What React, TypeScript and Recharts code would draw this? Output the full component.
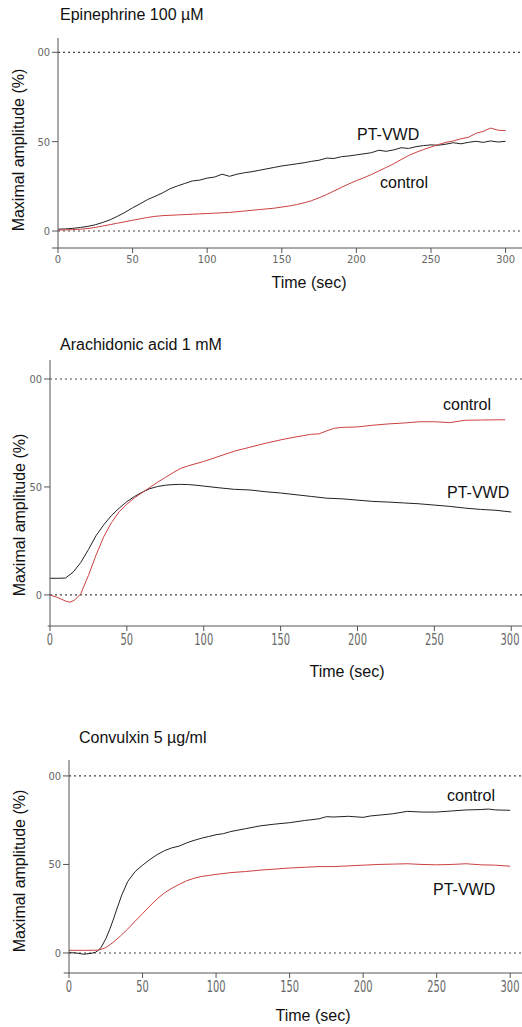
import React from 'react';
import { LineChart, Line, XAxis, YAxis, ReferenceLine } from 'recharts';

// ---- data ----
const xTicks = [0, 50, 100, 150, 200, 250, 300];
const yTicks = [0, 50, 100];
const yTickLabels = ['0', '50', '00'];

// Epinephrine 100 µM (5 s steps)
const epiTime = [
  0, 5, 10, 15, 20, 25, 30, 35, 40, 45, 50, 55, 60, 65, 70, 75, 80, 85, 90, 95, 100,
  105, 110, 115, 120, 125, 130, 135, 140, 145, 150, 155, 160, 165, 170, 175, 180, 185, 190, 195, 200,
  205, 210, 215, 220, 225, 230, 235, 240, 245, 250, 255, 260, 265, 270, 275, 280, 285, 290, 295, 300,
];
const epiPtVwd = [
  1.0, 1.2, 1.5, 2.0, 2.6, 3.5, 4.8, 6.3, 8.3, 10.5, 13.0, 15.2, 17.6, 19.4, 21.3, 23.6, 25.2, 26.6, 28.0, 28.5, 29.6,
  30.2, 31.8, 30.6, 31.8, 32.6, 33.2, 34.0, 34.8, 35.6, 36.4, 37.0, 37.6, 38.2, 39.0, 39.6, 40.8, 40.6, 41.6, 42.0, 42.6,
  43.2, 43.8, 45.2, 44.6, 45.4, 46.6, 46.2, 47.2, 47.8, 48.2, 48.0, 48.6, 49.4, 48.8, 49.6, 50.2, 49.6, 50.4, 49.8, 50.2,
];
const epiControl = [
  0.6, 0.6, 0.8, 1.0, 1.4, 2.0, 2.8, 3.6, 4.4, 5.2, 6.0, 6.8, 7.6, 8.2, 8.6, 8.8, 9.0, 9.2, 9.4, 9.6, 9.8,
  10.0, 10.2, 10.4, 10.8, 11.2, 11.6, 12.0, 12.4, 12.8, 13.4, 14.0, 14.8, 15.8, 17.0, 18.6, 20.4, 22.4, 24.4, 26.4, 28.2,
  29.8, 31.6, 33.6, 35.6, 37.6, 40.0, 42.2, 44.0, 45.6, 47.0, 48.4, 49.6, 50.4, 51.6, 52.4, 54.6, 55.8, 57.6, 56.4, 56.2,
];

// Arachidonic acid 1 mM
const aaPtVwdTime = [
  0, 5, 10, 15, 20, 25, 30, 35, 40, 45, 50, 55, 60, 65, 70, 75, 80, 85, 90, 95, 100,
  110, 120, 130, 140, 150, 160, 170, 180, 190, 200, 210, 220, 230, 240, 250, 260, 270, 280, 290, 300,
];
const aaPtVwd = [
  7.7, 7.7, 7.8, 10.5, 15, 21, 27.5, 32.5, 36.8, 40.2, 43.2, 45.6, 47.6, 49.2, 50.2, 50.8, 51.1, 51.2, 51.1, 50.8, 50.4,
  49.6, 48.9, 48.6, 47.8, 47.2, 46.4, 45.6, 44.8, 44.5, 43.9, 43.3, 43.0, 42.6, 42.2, 41.6, 41.0, 40.2, 39.6, 39.2, 38.4,
];
const aaControlTime = [
  0, 5, 10, 13, 16, 20, 25, 30, 35, 40, 45, 50, 55, 60, 65, 70, 75, 80, 85, 90, 95, 100,
  110, 120, 130, 140, 150, 160, 170, 175, 180, 185, 190, 200, 210, 220, 230, 240, 250, 260, 270, 280, 290, 296,
];
const aaControl = [
  0, -1.2, -2.8, -3.4, -2.4, 0.5, 9, 18.5, 27, 33.5, 38.5, 42, 45, 47.4, 49.8, 52.2, 54.4, 56.6, 58.6, 59.8, 60.8, 61.8,
  64.2, 66.6, 68.4, 70.2, 71.8, 73.2, 74.4, 74.6, 76.0, 77.2, 77.6, 77.8, 78.6, 79.2, 79.6, 80.2, 80.2, 79.8, 80.9, 81.0, 81.1, 81.1,
];

// Convulxin 5 µg/ml
const cvControlTime = [
  0, 5, 10, 15, 18, 20, 22, 25, 28, 30, 33, 36, 40, 45, 50, 55, 60, 65, 70, 75, 80, 85, 90, 95, 100,
  105, 110, 120, 130, 140, 150, 160, 170, 175, 180, 190, 200, 205, 210, 220, 230, 240, 250, 260, 270, 280, 285, 290, 300,
];
const cvControl = [
  0.2, 0, -0.7, -0.2, 0.4, 1.5, 3.4, 8, 14, 18.6, 26, 33, 40.5, 46, 49.6, 52.8, 55.6, 57.8, 59.4, 60.4, 62.2, 63.6, 64.8, 65.8, 66.8,
  67.4, 68.6, 70.2, 71.8, 72.8, 73.6, 74.8, 75.8, 77.0, 76.8, 77.2, 76.6, 77.4, 77.8, 78.6, 80.0, 79.6, 79.6, 80.2, 80.8, 81.0, 81.3, 80.8, 80.6,
];
const cvPtVwdTime = [
  0, 10, 20, 25, 30, 35, 40, 45, 50, 55, 60, 65, 70, 75, 80, 85, 90, 95, 100,
  110, 120, 130, 140, 150, 160, 170, 180, 190, 200, 210, 220, 230, 240, 250, 260, 270, 280, 290, 300,
];
const cvPtVwd = [
  1.5, 1.5, 1.6, 3.0, 6.0, 9.6, 13.6, 18.0, 22.2, 26.6, 30.6, 34.0, 36.6, 38.8, 40.8, 42.2, 43.2, 43.8, 44.4,
  45.4, 46.0, 46.8, 47.4, 48.0, 48.4, 48.8, 48.8, 49.2, 49.6, 50.0, 50.2, 50.4, 50.0, 49.8, 50.0, 50.4, 49.8, 49.6, 49.0,
];

const toPoints = (ts: number[], vs: number[]) => ts.map((t, i) => ({ t, v: vs[i] }));

const FONT = '"Liberation Sans", Arial, Helvetica, sans-serif';
const TICK_FONT = '"Liberation Sans Narrow", "DejaVu Sans Condensed", Arial, sans-serif';
const BLACK = '#222';
const RED = '#cc4040';
const AXIS = '#555';

const yFmt = (v: number) => yTickLabels[yTicks.indexOf(v)] ?? String(v);

// lower two panels have tall, smeared tick digits
const TallTick = ({ x, y, payload }: any) => (
  <text
    x={x}
    y={y}
    transform={`translate(${x} ${y}) scale(1 1.5) translate(${-x} ${-y})`}
    dy={8}
    textAnchor="middle"
    fontSize={11}
    fill="#666"
    fontFamily={TICK_FONT}
  >
    {payload.value}
  </text>
);

interface Note {
  text: string;
  left: number;
  cy: number;
}

interface PanelProps {
  top: number;
  height: number;
  marginTop: number;
  marginBottom: number;
  marginLeft: number;
  xMax: number;
  yDomain: [number, number];
  xExtend: number;
  tall?: boolean;
  black: { t: number; v: number }[];
  red: { t: number; v: number }[];
}

const Panel: React.FC<PanelProps> = (p) => (
  <div style={{ position: 'absolute', left: 0, top: p.top }}>
    <LineChart
      width={522}
      height={p.height}
      margin={{ top: p.marginTop, right: 0, bottom: p.marginBottom, left: p.marginLeft }}
    >
      <XAxis
        type="number"
        dataKey="t"
        domain={[0, p.xMax]}
        ticks={xTicks}
        allowDataOverflow
        height={30}
        stroke={AXIS}
        tickSize={5}
        tick={p.tall ? <TallTick /> : { fontSize: 11, fill: '#666', fontFamily: TICK_FONT }}
      />
      <YAxis
        type="number"
        dataKey="v"
        domain={p.yDomain}
        ticks={yTicks}
        allowDataOverflow
        width={40}
        stroke={AXIS}
        tickSize={6}
        tickFormatter={yFmt}
        tick={{ fontSize: 11, fill: '#666', fontFamily: TICK_FONT }}
      />
      <ReferenceLine y={100} stroke="#444" strokeDasharray="2 3" strokeWidth={1.2} />
      <ReferenceLine y={0} stroke="#444" strokeDasharray="2 3" strokeWidth={1.2} />
      <ReferenceLine
        segment={[{ x: p.xExtend, y: p.yDomain[0] }, { x: 0, y: p.yDomain[0] }]}
        stroke={AXIS}
        ifOverflow="visible"
      />
      <Line data={p.black} dataKey="v" stroke={BLACK} strokeWidth={1} dot={false} type="linear" isAnimationActive={false} />
      <Line data={p.red} dataKey="v" stroke={RED} strokeWidth={1} dot={false} type="linear" isAnimationActive={false} />
    </LineChart>
  </div>
);

const textStyle: React.CSSProperties = {
  position: 'absolute',
  fontFamily: FONT,
  fontSize: 16,
  lineHeight: '18px',
  color: '#111',
  whiteSpace: 'nowrap',
};

const Txt = ({ text, left, cy }: Note) => (
  <div style={{ ...textStyle, left, top: cy - 9 }}>{text}</div>
);

const XLabel = ({ cx, cy }: { cx: number; cy: number }) => (
  <div style={{ ...textStyle, left: cx - 100, top: cy - 9, width: 200, textAlign: 'center' }}>Time (sec)</div>
);

const YLabel = ({ cx, cy }: { cx: number; cy: number }) => (
  <div
    style={{
      ...textStyle,
      left: cx - 110,
      top: cy - 9,
      width: 220,
      textAlign: 'center',
      transform: 'rotate(-90deg)',
    }}
  >
    Maximal amplitude (%)
  </div>
);

export default function App() {
  return (
    <div style={{ position: 'absolute', left: 0, top: 0, width: 522, height: 1027, background: '#fff', overflow: 'hidden' }}>
      {/* Epinephrine */}
      <Panel
        top={0}
        height={300}
        marginTop={38}
        marginBottom={22}
        marginLeft={18}
        xMax={311}
        yDomain={[-9.5, 108]}
        xExtend={-4}
        black={toPoints(epiTime, epiPtVwd)}
        red={toPoints(epiTime, epiControl)}
      />
      <Txt text="Epinephrine 100 µM" left={60} cy={15} />
      <Txt text="PT-VWD" left={357} cy={135} />
      <Txt text="control" left={380} cy={183} />
      <XLabel cx={309} cy={283} />
      <YLabel cx={19} cy={150} />

      {/* Arachidonic acid */}
      <Panel
        top={330}
        height={360}
        marginTop={30}
        marginBottom={34}
        marginLeft={10}
        xMax={307}
        yDomain={[-14.4, 108.8]}
        xExtend={-1.5}
        tall
        black={toPoints(aaPtVwdTime, aaPtVwd)}
        red={toPoints(aaControlTime, aaControl)}
      />
      <Txt text="Arachidonic acid 1 mM" left={60} cy={345} />
      <Txt text="control" left={443} cy={405} />
      <Txt text="PT-VWD" left={447} cy={493} />
      <XLabel cx={347} cy={672} />
      <YLabel cx={20} cy={515} />

      {/* Convulxin */}
      <Panel
        top={690}
        height={337}
        marginTop={70}
        marginBottom={24}
        marginLeft={29}
        xMax={308}
        yDomain={[-11.3, 109]}
        xExtend={-3.6}
        tall
        black={toPoints(cvControlTime, cvControl)}
        red={toPoints(cvPtVwdTime, cvPtVwd)}
      />
      <Txt text="Convulxin 5 µg/ml" left={79} cy={738} />
      <Txt text="control" left={447} cy={796} />
      <Txt text="PT-VWD" left={433} cy={890} />
      <XLabel cx={313} cy={1016} />
      <YLabel cx={20} cy={871} />
    </div>
  );
}
